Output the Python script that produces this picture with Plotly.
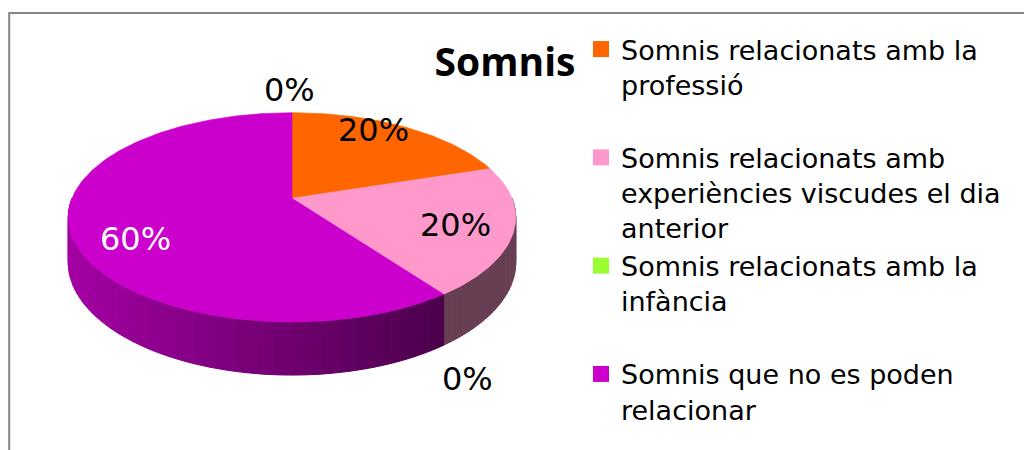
import numpy as np
import plotly.graph_objects as go

# ---------------- data ----------------
categories = [
    "Somnis relacionats amb la professió",
    "Somnis relacionats amb experiències viscudes el dia anterior",
    "Somnis relacionats amb la infància",
    "Somnis que no es poden relacionar",
    "",
]
legend_names = [
    "Somnis relacionats amb la<br>professió<br> ",
    "Somnis relacionats amb<br>experiències viscudes el dia<br>anterior",
    "Somnis relacionats amb la<br>infància<br> ",
    "Somnis que no es poden<br>relacionar",
    None,
]
values = [20, 20, 0, 60, 0]
title_text = "Somnis"

# ---------------- style ----------------
colors = ["#FF6600", "#FF99CC", "#99FF33", "#CC00CC", "#4F81BD"]
label_colors = ["black", "black", "black", "white", "black"]
# brightness of the side wall (left end, right end) per slice
side_light = {3: (0.80, 0.37), 1: (0.40, 0.41)}
# label nudges in screen pixels (dx right, dy down)
label_nudge = [(-1, -16), (11, 4), (24, 34), (-4, 18), (-3, -23)]

W, H = 1032, 450
OFF = 8                     # page body margin compensation
CX, CY = 292.0, 198.3      # projected pie centre (pixels)
RA, RB = 220.0, 101.2      # horizontal / vertical radii
PK = 0.182                 # perspective factor
DEPTH = 43.4               # wall height


def project(theta, r=1.0, drop=0.0):
    t = np.radians(np.asarray(theta, dtype=float))
    s = 1.0 / (1.0 + PK * r * np.cos(t))
    x = CX + RA * r * np.sin(t) * s
    y = CY - RB * r * np.cos(t) * s + drop * DEPTH * s
    return x, y


def shade(hexcol, f):
    h = hexcol.lstrip("#")
    rgb = [int(h[i:i + 2], 16) for i in (0, 2, 4)]
    return "rgb({},{},{})".format(*[int(round(min(255, c * f))) for c in rgb])


total = float(sum(values))
spans = [v / total * 360.0 for v in values]
starts = np.concatenate([[0.0], np.cumsum(spans)[:-1]])

fig = go.Figure()

# ---- side walls (front half only) ----
for i, v in enumerate(values):
    if v == 0:
        continue
    a0, a1 = starts[i], starts[i] + spans[i]
    lo, hi = max(a0, 90.0), min(a1, 270.0)
    if hi <= lo:
        continue
    n = max(2, int(np.ceil((hi - lo) / 2.0)))
    edges = np.linspace(lo, hi, n + 1)
    mids = [(edges[j] + edges[j + 1]) / 2 for j in range(n)]
    xm = [float(project(m)[0]) for m in mids]
    xmin, xmax = min(xm), max(xm)
    fl, fr = side_light.get(i, (0.6, 0.4))
    for j in range(n):
        frac = (xm[j] - xmin) / (xmax - xmin) if xmax > xmin else 0.0
        col = shade(colors[i], fl + (fr - fl) * frac)
        th = np.linspace(edges[j], edges[j + 1], 4)
        tx, ty = project(th)
        bx, by = project(th[::-1], drop=1.0)
        px = np.concatenate([tx, bx, tx[:1]])
        py = np.concatenate([ty, by, ty[:1]])
        fig.add_trace(go.Scatter(x=px, y=py, mode="lines", fill="toself",
                                 fillcolor=col, line=dict(color=col, width=1),
                                 hoverinfo="skip", showlegend=False))

# ---- top faces ----
for i, v in enumerate(values):
    if v == 0:
        continue
    a0, a1 = starts[i], starts[i] + spans[i]
    th = np.linspace(a0, a1, max(3, int(spans[i]) + 2))
    tx, ty = project(th)
    px = np.concatenate([[CX], tx, [CX]])
    py = np.concatenate([[CY], ty, [CY]])
    fig.add_trace(go.Scatter(x=px, y=py, mode="lines", fill="toself",
                             fillcolor=colors[i], line=dict(color=colors[i], width=0.6),
                             hoverinfo="text", hoveron="fills",
                             text=f"{categories[i]}: {v / total * 100:.0f}%",
                             showlegend=False))

# ---- legend entries ----
for i, name in enumerate(legend_names):
    if name is None:
        continue
    fig.add_trace(go.Scatter(x=[None], y=[None], mode="markers",
                             marker=dict(symbol="square", size=16, color=colors[i]),
                             name=name, showlegend=True))

# ---- data labels ----
annotations = []
for i, v in enumerate(values):
    mid = starts[i] + spans[i] / 2.0
    if v > 0:
        ax, ay = project(mid, 0.7)
    elif np.cos(np.radians(mid)) < 0:
        ax, ay = project(mid, 1.0, drop=1.0)
    else:
        ax, ay = project(mid, 1.0)
    dx, dy = label_nudge[i]
    annotations.append(dict(x=float(ax), y=float(ay), xref="x", yref="y",
                            text=f"{v / total * 100:.0f}%", showarrow=False,
                            xshift=dx, yshift=-dy,
                            font=dict(family="DejaVu Sans", size=32, color=label_colors[i])))

fig.update_layout(
    width=W, height=H,
    margin=dict(l=0, r=0, t=0, b=0),
    paper_bgcolor="white", plot_bgcolor="white",
    xaxis=dict(range=[OFF, W + OFF], visible=False, fixedrange=True),
    yaxis=dict(range=[H + OFF, OFF], visible=False, fixedrange=True),
    title=dict(text=f"<b>{title_text}</b>", x=(505 - OFF) / W, xanchor="center",
               y=1 - (62 - OFF) / H, yanchor="middle", xref="paper", yref="paper",
               font=dict(family="Open Sans", size=39, color="black")),
    legend=dict(x=(581 - OFF) / W, y=1 - (25 - OFF) / H, xanchor="left", yanchor="top",
                valign="top", bgcolor="rgba(0,0,0,0)", tracegroupgap=0,
                font=dict(family="DejaVu Sans", size=27, color="black")),
    annotations=annotations,
    shapes=[dict(type="rect", xref="x", yref="y", x0=9.2, y0=13, x1=W + 40, y1=H + 40,
                 line=dict(color="#868686", width=2), fillcolor="rgba(0,0,0,0)",
                 layer="below")],
    showlegend=True,
)

fig.write_html("out.html")
